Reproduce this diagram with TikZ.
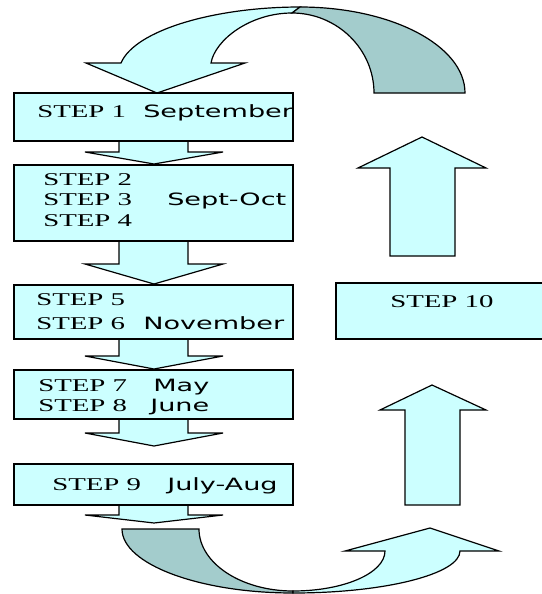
\documentclass[tikz,border=0pt]{standalone}
\usepackage{fontspec}
\newfontfamily\stepfont[FakeStretch=1.6]{Liberation Serif}
\newfontfamily\monthfont[FakeStretch=1.6]{DejaVu Sans}
\definecolor{lightcy}{RGB}{204,255,255}
\definecolor{darkcy}{RGB}{163,204,204}
\newcommand\blockdn[3]{% #1 top y, #2 head base y, #3 tip y
  \fill[lightcy] (119,#1) -- (119,#2) -- (85,#2) -- (154,#3) -- (223,#2) -- (188,#2) -- (188,#1) -- cycle;
  \draw[outl] (119,#1) -- (119,#2) -- (85,#2) -- (154,#3) -- (223,#2) -- (188,#2) -- (188,#1);}
\begin{document}
\begin{tikzpicture}[x=0.75pt,y=-0.75pt,line join=miter,
  outl/.style={draw=black,line width=0.9pt},
  lightshape/.style={outl,fill=lightcy},
  darkshape/.style={outl,fill=darkcy},
  box/.style={lightshape,rectangle,inner sep=0pt,outer sep=0pt},
  steptxt/.style={anchor=base west,inner sep=0pt,text=black,font=\stepfont\fontsize{13.5}{15}\selectfont},
  monthtxt/.style={anchor=base west,inner sep=0pt,text=black,font=\monthfont\fontsize{12.7}{15}\selectfont}]
\useasboundingbox (0,0) rectangle (542,594);
\fill[white] (0,0) rectangle (542,594);

% top curved arrow
\filldraw[lightshape] (121,63) .. controls (135,30) and (215,7) .. (300,7) -- (292,13)
  .. controls (250,13) and (215,40) .. (211,63) -- (245,63) -- (157,93) -- (86,63) -- cycle;
\filldraw[darkshape] (292,13) .. controls (337,13) and (374,49) .. (374,93) -- (465,93)
  .. controls (465,45.5) and (391,7) .. (300,7) -- cycle;

% bottom curved arrow
\filldraw[darkshape] (122,529) -- (199,529) .. controls (199,563) and (241,591) .. (293,591)
  -- (293,593) .. controls (199,593) and (122,564) .. (122,529) -- cycle;
\filldraw[lightshape] (293,591) .. controls (344,591) and (385,573) .. (385,551) -- (345,551)
  -- (430,528) -- (499,551) -- (460,551) .. controls (460,574) and (385,593) .. (293,593) -- cycle;

% up arrows
\filldraw[lightshape] (390,256) -- (390,168) -- (358,168) -- (422,137) -- (486,168) -- (455,168) -- (455,256) -- cycle;
\filldraw[lightshape] (405,505) -- (405,410) -- (380,410) -- (432,385) -- (486,410) -- (460,410) -- (460,505) -- cycle;

% block arrows between boxes
\blockdn{141}{152}{164}
\blockdn{241}{264}{284}
\blockdn{339}{356}{369}
\blockdn{419}{433}{446}
\blockdn{505}{515}{523}

% boxes
\node[box,minimum width=209.25pt,minimum height=36pt] (b1) at (153.5,117) {};
\node[box,minimum width=209.25pt,minimum height=57pt] (b2) at (153.5,203) {};
\node[box,minimum width=209.25pt,minimum height=40.5pt] (b3) at (153.5,312) {};
\node[box,minimum width=209.25pt,minimum height=36.75pt] (b4) at (153.5,394.5) {};
\node[box,minimum width=209.25pt,minimum height=30.75pt] (b5) at (153.5,484.5) {};
\node[fill=lightcy,inner sep=0pt,outer sep=0pt,minimum width=154.5pt,minimum height=42pt] (b10) at (439,311) {};
\draw[outl] (b10.north east) -- (b10.north west) -- (b10.south west) -- (b10.south east);

% texts
\node[steptxt] (s1) at (37,117) {STEP 1};
\node[monthtxt] (m1) at (143,117) {September};
\node[steptxt] (s2) at (43,185) {STEP 2};
\node[steptxt] (s3) at (43,205) {STEP 3};
\node[monthtxt] (m3) at (167,205) {Sept-Oct};
\node[steptxt] (s4) at (43,226) {STEP 4};
\node[steptxt] (s5) at (36,305) {STEP 5};
\node[steptxt] (s6) at (36,329) {STEP 6};
\node[monthtxt] (m6) at (143,329) {November};
\node[steptxt] (s7) at (38,391) {STEP 7};
\node[monthtxt] (m7) at (153,391) {May};
\node[steptxt] (s8) at (38,411) {STEP 8};
\node[monthtxt] (m8) at (150,411) {June};
\node[steptxt] (s9) at (52,490) {STEP 9};
\node[monthtxt] (m9) at (167,490) {July-Aug};
\node[steptxt] (s10) at (390,307) {STEP 10};
\end{tikzpicture}
\end{document}
